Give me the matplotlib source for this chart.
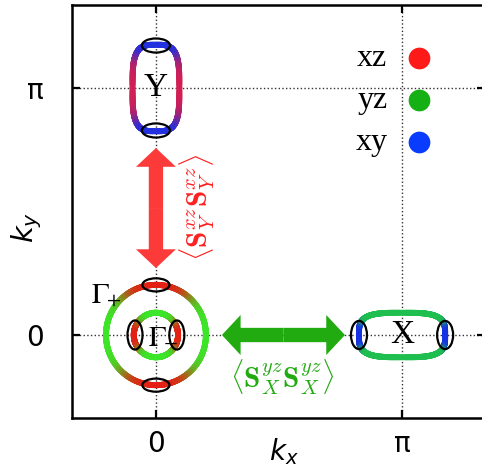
import numpy as np
import matplotlib.pyplot as plt
from matplotlib.collections import LineCollection
from matplotlib.patches import Ellipse
from matplotlib.colors import to_rgb

PI = np.pi

# orbital legend
orbitals = ['xz', 'yz', 'xy']
orbital_colors = ['#ff1a1a', '#14b014', '#0a3cff']

# Fermi pockets (units of pi): centre, semi-axes, superellipse exponent
pocket_cx = [0.0, 0.0, 0.0, 1.0]
pocket_cy = [0.0, 0.0, 1.0, 0.0]
pocket_rx = [0.203, 0.090, 0.095, 0.175]
pocket_ry = [0.203, 0.090, 0.175, 0.090]
pocket_n = [2.0, 2.0, 3.5, 3.5]
# colour towards the kx ends / ky ends, crossover angle (deg) and width
pocket_col_x = ['#3ce628', '#e61e14', '#d81e50', '#1530e6']
pocket_col_y = ['#e61e14', '#3ce628', '#2030e0', '#1fbf4f']
pocket_cross = [52.0, 42.0, 38.0, 26.0]
pocket_width = [8.0, 7.0, 11.0, 5.0]

# pocket names
label_text = [r'$\Gamma_{\!\!+}$', r'$\Gamma_{\!\!-}$', 'Y', 'X']
label_x = [-0.2, 0.03, 0.0, 1.0]
label_y = [0.165, 0.0, 1.0, 0.0]

# hot spots (black ellipses), units of pi
hot_x = [0.0, 0.0, -0.085, 0.085, 0.0, 0.0, 0.825, 1.175]
hot_y = [0.203, -0.203, 0.0, 0.0, 1.172, 0.828, 0.0, 0.0]
hot_w = [0.110, 0.110, 0.061, 0.061, 0.114, 0.114, 0.065, 0.065]
hot_h = [0.053, 0.053, 0.118, 0.118, 0.057, 0.057, 0.114, 0.114]

# nesting arrows (units of pi)
arrow_x0 = [0.0, 0.268]
arrow_y0 = [0.271, 0.0]
arrow_x1 = [0.0, 0.768]
arrow_y1 = [0.757, 0.0]
arrow_colors = ['#fd3a3a', '#22aa11']
arrow_text = [r'$\langle\mathbf{S}_Y^{xz}\mathbf{S}_Y^{xz}\rangle$',
              r'$\langle\mathbf{S}_X^{yz}\mathbf{S}_X^{yz}\rangle$']
arrow_text_x = [0.167, 0.512]
arrow_text_y = [0.518, -0.170]
arrow_text_rot = [90, 0]
arrow_text_colors = ['#ff2020', '#22aa11']

tick_pos = [0.0, 1.0]
tick_labels = ['0', 'π']

fig = plt.figure(figsize=(4.82, 4.68), dpi=100)
ax = fig.add_axes([72 / 482, 50 / 468, (485 - 72) / 482, 413 / 468])

# Fermi surface pockets, coloured by orbital character
t = np.linspace(0, 2 * PI, 601)
for i in range(len(pocket_cx)):
    c, s = np.cos(t), np.sin(t)
    e = 2.0 / pocket_n[i]
    x = pocket_cx[i] + pocket_rx[i] * np.sign(c) * np.abs(c) ** e
    y = pocket_cy[i] + pocket_ry[i] * np.sign(s) * np.abs(s) ** e
    pts = np.column_stack([x, y]) * PI
    segs = np.stack([pts[:-1], pts[1:]], axis=1)
    tm = 0.5 * (t[:-1] + t[1:])
    phi = np.degrees(np.arctan2(np.abs(np.sin(tm)), np.abs(np.cos(tm))))
    w = 1.0 / (1.0 + np.exp(-(phi - pocket_cross[i]) / pocket_width[i]))
    cx_rgb = np.array(to_rgb(pocket_col_x[i]))
    cy_rgb = np.array(to_rgb(pocket_col_y[i]))
    cols = (1 - w)[:, None] * cx_rgb + w[:, None] * cy_rgb
    # same stacking order on both sides of each pocket
    order = np.argsort(w, kind='stable')
    lc = LineCollection(segs[order], colors=cols[order], linewidths=4.3,
                        capstyle='round', zorder=3)
    ax.add_collection(lc)

for i in range(len(hot_x)):
    ax.add_patch(Ellipse((hot_x[i] * PI, hot_y[i] * PI), hot_w[i] * PI, hot_h[i] * PI,
                         fill=False, edgecolor='black', lw=1.6, zorder=4))

for i in range(len(label_text)):
    if label_text[i].startswith('$'):
        ax.text(label_x[i] * PI, label_y[i] * PI, label_text[i], fontsize=21,
                math_fontfamily='stix', ha='center', va='center', zorder=5)
    else:
        ax.text(label_x[i] * PI, label_y[i] * PI, label_text[i], fontsize=24,
                family='Liberation Serif', ha='center', va='center', zorder=5)

# double-headed arrows
for i in range(len(arrow_x0)):
    xm = 0.5 * (arrow_x0[i] + arrow_x1[i]) * PI
    ym = 0.5 * (arrow_y0[i] + arrow_y1[i]) * PI
    for xe, ye in [(arrow_x0[i], arrow_y0[i]), (arrow_x1[i], arrow_y1[i])]:
        ax.arrow(xm, ym, xe * PI - xm, ye * PI - ym, width=0.058 * PI,
                 head_width=0.162 * PI, head_length=0.076 * PI,
                 length_includes_head=True, color=arrow_colors[i], lw=0, zorder=3)
    ax.text(arrow_text_x[i] * PI, arrow_text_y[i] * PI, arrow_text[i], fontsize=21,
            math_fontfamily='cm', color=arrow_text_colors[i], rotation=arrow_text_rot[i],
            ha='center', va='center')

# orbital legend
for i in range(len(orbitals)):
    yy = (1.121 - 0.17 * i) * PI
    ax.text(0.94 * PI, yy, orbitals[i], fontsize=23, family='Liberation Serif',
            ha='right', va='center')
    ax.scatter(1.069 * PI, yy, s=245, color=orbital_colors[i], lw=0, zorder=5)

ax.set_xlim(-0.341 * PI, 1.337 * PI)
ax.set_ylim(-0.336 * PI, 1.336 * PI)
ax.set_xticks([p * PI for p in tick_pos])
ax.set_xticklabels(tick_labels)
ax.set_yticks([p * PI for p in tick_pos])
ax.set_yticklabels(tick_labels)
ax.tick_params(direction='in', length=6, width=1.6, top=True, right=True, labelsize=20)
ax.tick_params(axis='x', pad=9)
ax.tick_params(axis='y', pad=20)
ax.grid(True, ls=':', lw=1.0, color='#333333', zorder=0)
ax.set_axisbelow(True)
for sp in ax.spines.values():
    sp.set_linewidth(1.8)

ax.set_xlabel(r'$k_x$', fontsize=20)
ax.set_ylabel(r'$k_y$', fontsize=21)
ax.xaxis.set_label_coords(0.513, -0.045)
ax.yaxis.set_label_coords(-0.068, 0.462)

fig.savefig('out.png', dpi=100)
